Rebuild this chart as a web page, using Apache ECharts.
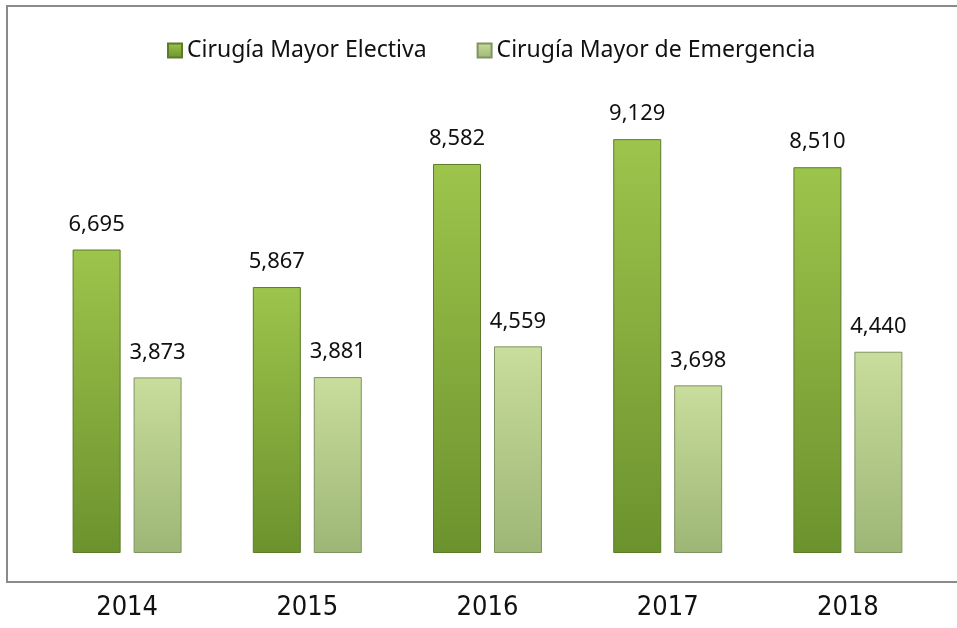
<!DOCTYPE html>
<html>
<head>
<meta charset="utf-8">
<script src="https://cdn.jsdelivr.net/npm/echarts@6/dist/echarts.min.js"></script>
<style>
  html, body {margin: 0; padding: 0; background: #fff;}
  #chart {width: 957px; height: 628px;}
</style>
</head>
<body>
<div id="chart"></div>
<script>
// Cirugías mayores por año, 2014–2018
const years = ["2014", "2015", "2016", "2017", "2018"]
const electiva = [6695, 5867, 8582, 9129, 8510]
const emergencia = [3873, 3881, 4559, 3698, 4440]

const LABEL_FONT = "'Noto Sans', sans-serif"

function barGradient(top, bottom) {
  return new echarts.graphic.LinearGradient(0, 0, 0, 1, [
    {offset: 0, color: top},
    {offset: 1, color: bottom},
  ])
}

const chart = echarts.init(document.getElementById("chart"), null, {renderer: "canvas"})

chart.setOption({
  backgroundColor: "#fff",
  animation: false,
  graphic: [
    {
      type: "rect",
      shape: {x: 7, y: 6, width: 980, height: 576},
      style: {fill: "none", stroke: "#8a8a8a", lineWidth: 2},
      silent: true,
    },
  ],
  legend: {
    left: 162,
    top: 34,
    itemWidth: 14,
    itemHeight: 14,
    itemGap: 50,
    icon: "rect",
    textStyle: {fontFamily: LABEL_FONT, fontSize: 23, color: "#111"},
    data: ["Cirugía Mayor Electiva", "Cirugía Mayor de Emergencia"],
  },
  grid: {left: 37, right: 19, top: 100, bottom: 75},
  xAxis: {
    type: "category",
    data: years,
    axisLine: {show: false},
    axisTick: {show: false},
    axisLabel: {
      margin: 41,
      fontFamily: "'DejaVu Sans Condensed', 'Liberation Sans Narrow', sans-serif",
      fontSize: 27,
      color: "#111",
    },
  },
  yAxis: {
    type: "value",
    min: 0,
    max: 9993,
    show: false,
    splitLine: {show: false},
  },
  series: [
    {
      name: "Cirugía Mayor Electiva",
      type: "bar",
      data: electiva,
      barWidth: 48,
      barGap: "27%",
      itemStyle: {
        color: barGradient("#9dc44b", "#6c922e"),
        borderColor: "#5d7a2a",
        borderWidth: 1,
      },
      label: {
        show: true,
        position: "top",
        distance: 14,
        fontFamily: LABEL_FONT,
        fontSize: 22,
        color: "#111",
        formatter: p => p.value.toLocaleString("en-US"),
      },
    },
    {
      name: "Cirugía Mayor de Emergencia",
      type: "bar",
      data: emergencia,
      barWidth: 48,
      itemStyle: {
        color: barGradient("#c9dd9c", "#9db676"),
        borderColor: "#7f9460",
        borderWidth: 1,
      },
      label: {
        show: true,
        position: "top",
        distance: 14,
        fontFamily: LABEL_FONT,
        fontSize: 22,
        color: "#111",
        formatter: p => p.value.toLocaleString("en-US"),
      },
    },
  ],
})
</script>
</body>
</html>
